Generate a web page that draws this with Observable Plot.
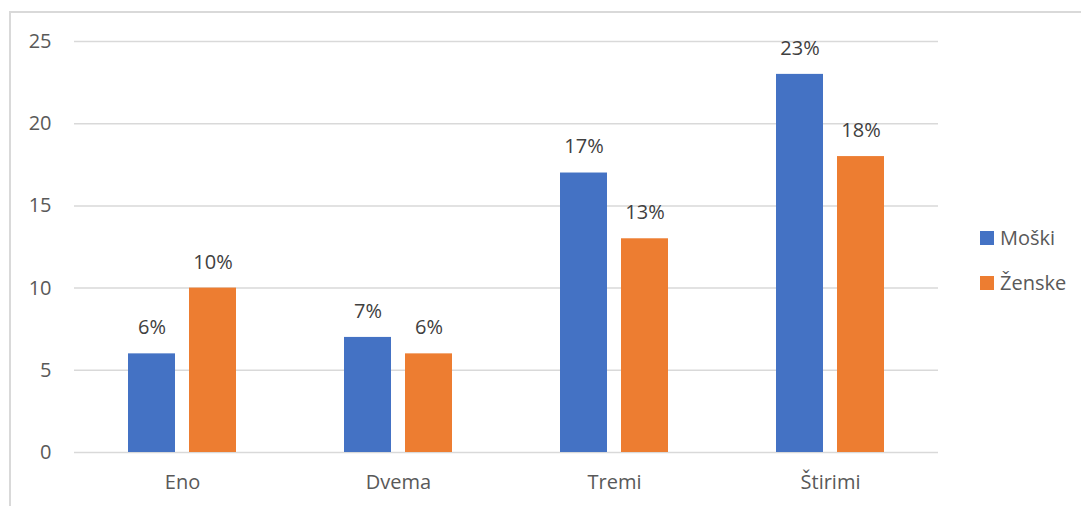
<!DOCTYPE html>
<html><head><meta charset="utf-8">
<script src="https://cdn.jsdelivr.net/npm/d3@7"></script>
<script src="https://cdn.jsdelivr.net/npm/@observablehq/plot@0.6"></script>
<style>
html,body{margin:0;padding:0;background:#fff;overflow:hidden;}
#wrap{position:relative;width:1081px;height:506px;font-family:"Open Sans",sans-serif;}
#border{position:absolute;left:9px;top:11px;width:1100px;height:600px;border:2px solid #d9d9d9;box-sizing:border-box;z-index:2;}
#chart{position:absolute;left:0;top:0;z-index:1;}
.leg{position:absolute;left:980px;font-size:20px;color:#595959;display:flex;align-items:center;line-height:1;z-index:3;}
.sw{width:14px;height:14px;margin-right:6px;}
</style></head>
<body><div id="wrap"><div id="chart"></div><div id="border"></div>
<div class="leg" style="top:228px"><div class="sw" style="background:#4472C4"></div>Moški</div>
<div class="leg" style="top:273px"><div class="sw" style="background:#ED7D31"></div>Ženske</div>
</div>
<script>
const categories = ["Eno", "Dvema", "Tremi", "Štirimi"];
const series = ["Moški", "Ženske"];
const moski = [6, 7, 17, 23];
const zenske = [10, 6, 13, 18];
const yTicks = [0, 5, 10, 15, 20, 25];
const colors = ["#4472C4", "#ED7D31"];

const data = [];
categories.forEach((c, i) => {
  data.push({cat: c, sex: series[0], value: moski[i]});
  data.push({cat: c, sex: series[1], value: zenske[i]});
});

const chart = Plot.plot({
  width: 1081, height: 506,
  marginLeft: 74, marginRight: 143, marginTop: 41, marginBottom: 54,
  style: {fontFamily: "'Open Sans', sans-serif", fontSize: "20px", color: "#595959", background: "transparent"},
  fx: {domain: categories, padding: 0, label: null, axis: null},
  x: {domain: series, axis: null, paddingInner: 0.226, paddingOuter: 0.855},
  y: {domain: [0, 25], axis: null},
  color: {domain: series, range: colors},
  marks: [
    Plot.gridY(yTicks.filter(d => d > 0), {stroke: "#d9d9d9", strokeOpacity: 1, strokeWidth: 1.5}),
    Plot.ruleY([0], {stroke: "#d9d9d9", strokeWidth: 1.5}),
    Plot.barY(data, {fx: "cat", x: "sex", y: "value", fill: "sex"}),
    Plot.text(data, {fx: "cat", x: "sex", y: "value", text: d => d.value + "%", dy: -26, fill: "#404040", fontSize: 20}),
    Plot.axisY({ticks: yTicks, tickSize: 0, tickPadding: 23, label: null, fill: "#595959", fontSize: 20}),
    Plot.axisFx({anchor: "bottom", tickSize: 0, tickPadding: 22, label: null, fill: "#595959", fontSize: 20})
  ]
});
document.getElementById("chart").appendChild(chart);
</script></body></html>
